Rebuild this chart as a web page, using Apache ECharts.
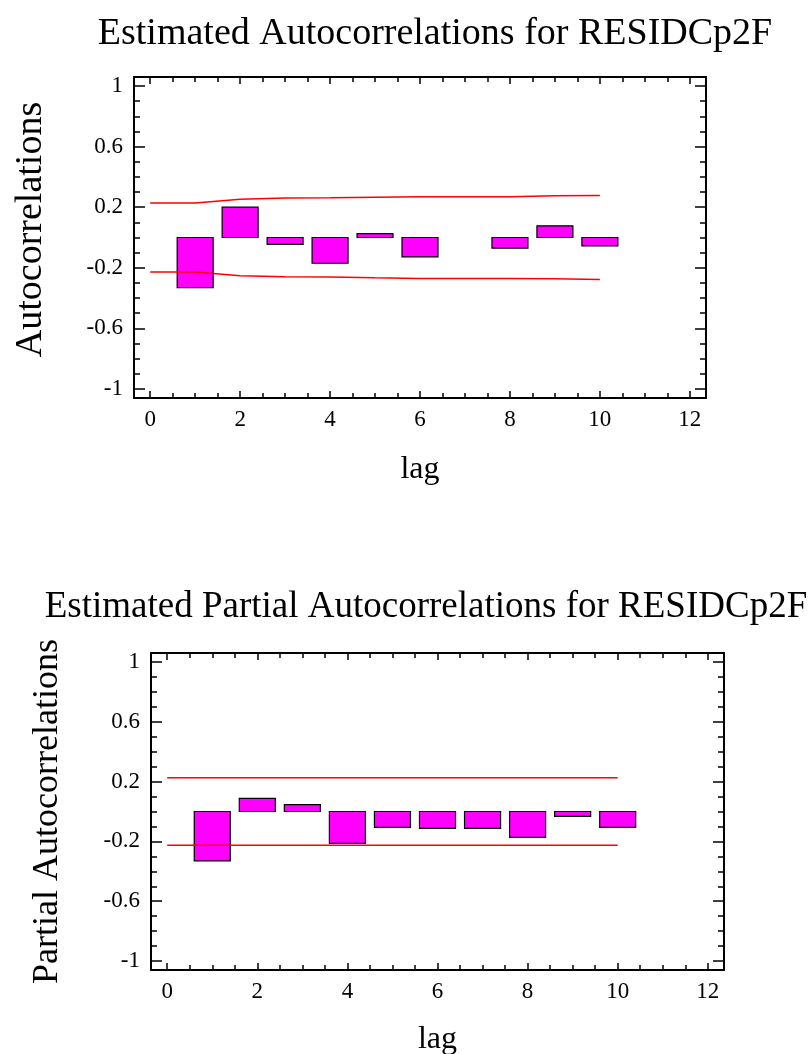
<!DOCTYPE html>
<html>
<head>
<meta charset="utf-8">
<script src="https://cdn.jsdelivr.net/npm/echarts@6/dist/echarts.min.js"></script>
<style>
  html, body { margin: 0; padding: 0; background: #fff; }
  #chart { width: 810px; height: 1054px; }
</style>
</head>
<body>
<div id="chart"></div>
<script>
// Lags 1..10 with estimated (partial) autocorrelations of the residuals
const lags = [1, 2, 3, 4, 5, 6, 7, 8, 9, 10];
const acfValues = [-0.332, 0.200, -0.046, -0.170, 0.026, -0.128, 0.0, -0.070, 0.077, -0.055];
const pacfValues = [-0.330, 0.088, 0.046, -0.213, -0.106, -0.113, -0.113, -0.173, -0.032, -0.106];

// 95% probability limits
const acfLimitLags = [0, 1, 2, 3, 4, 5, 6, 7, 8, 9, 10];
const acfUpper = [0.228, 0.228, 0.253, 0.261, 0.262, 0.266, 0.269, 0.269, 0.269, 0.275, 0.277];
const acfLower = [-0.228, -0.228, -0.252, -0.260, -0.261, -0.266, -0.270, -0.270, -0.270, -0.272, -0.278];
const pacfLimitLags = [0, 10];
const pacfUpper = [0.225, 0.225];
const pacfLower = [-0.225, -0.225];

// Tick positions
const yMajorTicks = [-1, -0.6, -0.2, 0.2, 0.6, 1];
const yMinorTicks = [-0.9, -0.8, -0.7, -0.5, -0.4, -0.3, -0.1, 0, 0.1, 0.3, 0.4, 0.5, 0.7, 0.8, 0.9];
const xMajorTicks = [0, 2, 4, 6, 8, 10, 12];
const xMinorTicks = [0.5, 1, 1.5, 2.5, 3, 3.5, 4.5, 5, 5.5, 6.5, 7, 7.5, 8.5, 9, 9.5, 10.5, 11, 11.5];

const FONT = '"Liberation Serif", "Times New Roman", serif';
const X_RANGE = [-0.36, 12.36];
const Y_RANGE = [-1.06, 1.06];

const chart = echarts.init(document.getElementById('chart'), null, { renderer: 'canvas' });

function pairs(xs, ys) { return xs.map((x, i) => [x, ys[i]]); }

const frameLine = { show: true, onZero: false, lineStyle: { color: '#000', width: 2 } };
const noLine = { show: false, onZero: false };
function ticks(values, length) {
  return { show: true, inside: true, length: length, customValues: values, lineStyle: { color: '#000', width: 1.5 } };
}

// Box frame: major and minor tick axes on every side of the plot
function xAxesFor(gridIndex, nameGap) {
  const base = { type: 'value', gridIndex, min: X_RANGE[0], max: X_RANGE[1], splitLine: { show: false } };
  return [
    Object.assign({}, base, {
      position: 'bottom', axisLine: frameLine, axisTick: ticks(xMajorTicks, 7),
      axisLabel: { show: true, customValues: xMajorTicks, margin: 10, color: '#000', fontFamily: FONT, fontSize: 23 },
      name: 'lag', nameLocation: 'middle', nameGap: nameGap,
      nameTextStyle: { color: '#000', fontFamily: FONT, fontSize: 32 }
    }),
    Object.assign({}, base, { position: 'bottom', axisLine: noLine, axisTick: ticks(xMinorTicks, 5), axisLabel: { show: false } }),
    Object.assign({}, base, { position: 'top', axisLine: frameLine, axisTick: ticks(xMajorTicks, 7), axisLabel: { show: false } }),
    Object.assign({}, base, { position: 'top', axisLine: noLine, axisTick: ticks(xMinorTicks, 5), axisLabel: { show: false } })
  ];
}

function yAxesFor(gridIndex, title, fontSize, nameGap, padding) {
  const base = { type: 'value', gridIndex, min: Y_RANGE[0], max: Y_RANGE[1], splitLine: { show: false } };
  return [
    Object.assign({}, base, {
      position: 'left', axisLine: frameLine, axisTick: ticks(yMajorTicks, 11),
      axisLabel: { show: true, customValues: yMajorTicks, margin: 11, color: '#000', fontFamily: FONT, fontSize: 23 },
      name: title, nameLocation: 'middle', nameGap: nameGap, nameRotate: 90,
      nameTextStyle: { color: '#000', fontFamily: FONT, fontSize: fontSize, padding: padding }
    }),
    Object.assign({}, base, { position: 'left', axisLine: noLine, axisTick: ticks(yMinorTicks, 6), axisLabel: { show: false } }),
    Object.assign({}, base, { position: 'right', axisLine: frameLine, axisTick: ticks(yMajorTicks, 11), axisLabel: { show: false } }),
    Object.assign({}, base, { position: 'right', axisLine: noLine, axisTick: ticks(yMinorTicks, 6), axisLabel: { show: false } })
  ];
}

// Rectangular bars spanning lag ± 0.4 from zero to the correlation value
function renderBar(params, api) {
  const lag = api.value(0);
  const v = api.value(1);
  if (v === 0) return null;
  const p0 = api.coord([lag - 0.4, 0]);
  const p1 = api.coord([lag + 0.4, v]);
  return {
    type: 'rect',
    shape: { x: p0[0], y: Math.min(p0[1], p1[1]), width: p1[0] - p0[0], height: Math.abs(p1[1] - p0[1]) },
    style: { fill: '#FF00FF', stroke: '#000', lineWidth: 1.2 }
  };
}

function limitLine(xIdx, yIdx, data) {
  return {
    type: 'line', xAxisIndex: xIdx, yAxisIndex: yIdx, data: data,
    showSymbol: false, symbol: 'none', silent: true, z: 3,
    lineStyle: { color: '#FF0000', width: 1.5 }
  };
}

const option = {
  animation: false,
  backgroundColor: '#fff',
  title: [
    { text: 'Estimated Autocorrelations for RESIDCp2F', left: 430, top: 10, textAlign: 'center',
      textStyle: { color: '#000', fontFamily: FONT, fontSize: 38, fontWeight: 'normal' } },
    { text: 'Estimated Partial Autocorrelations for RESIDCp2F', left: 421, top: 584, textAlign: 'center',
      textStyle: { color: '#000', fontFamily: FONT, fontSize: 37, fontWeight: 'normal' } }
  ],
  grid: [
    { left: 134, top: 77, width: 572, height: 321, outerBoundsMode: 'none', containLabel: false },
    { left: 151, top: 653, width: 573, height: 317, outerBoundsMode: 'none', containLabel: false }
  ],
  xAxis: xAxesFor(0, 56).concat(xAxesFor(1, 54)),
  yAxis: yAxesFor(0, 'Autocorrelations', 38, 84, [0, 0, 0, 16])
    .concat(yAxesFor(1, 'Partial Autocorrelations', 36, 85, 0)),
  series: [
    { type: 'custom', xAxisIndex: 0, yAxisIndex: 0, renderItem: renderBar, data: pairs(lags, acfValues), z: 2 },
    limitLine(0, 0, pairs(acfLimitLags, acfUpper)),
    limitLine(0, 0, pairs(acfLimitLags, acfLower)),
    { type: 'custom', xAxisIndex: 4, yAxisIndex: 4, renderItem: renderBar, data: pairs(lags, pacfValues), z: 2 },
    limitLine(4, 4, pairs(pacfLimitLags, pacfUpper)),
    limitLine(4, 4, pairs(pacfLimitLags, pacfLower))
  ]
};

chart.setOption(option);
</script>
</body>
</html>
